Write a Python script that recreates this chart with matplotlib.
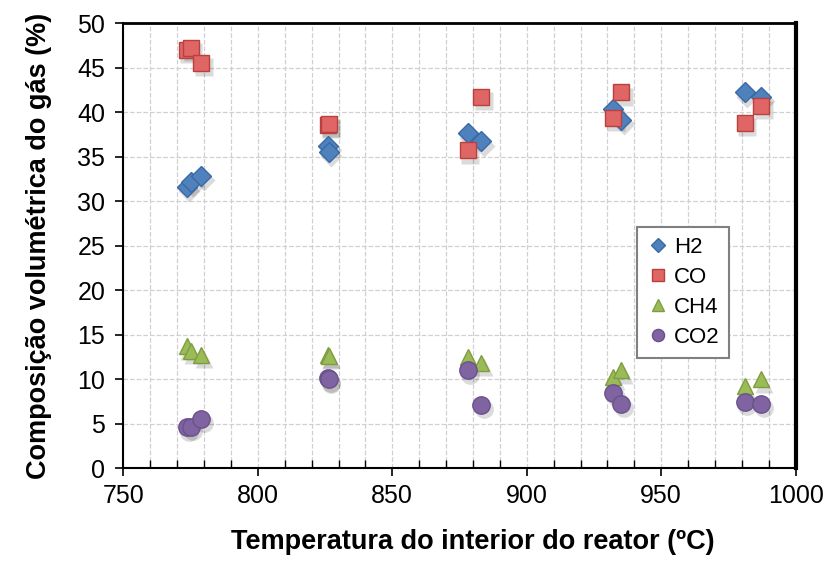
import matplotlib
matplotlib.use('Agg')
import matplotlib.pyplot as plt
import matplotlib.transforms as mtrans
from matplotlib.ticker import MultipleLocator

plt.rcParams['font.family'] = ['Liberation Sans', 'DejaVu Sans']

# Gas composition (% vol) versus reactor inner temperature (C)
temp = [773.5, 775, 779, 826, 826.3, 878, 883, 932, 935, 981, 987]
h2 = [31.6, 32.2, 32.8, 36.2, 35.5, 37.6, 36.7, 40.4, 39.1, 42.2, 41.7]
co = [47.0, 47.2, 45.5, 38.6, 38.7, 35.7, 41.7, 39.3, 42.2, 38.8, 40.7]
ch4 = [13.7, 13.2, 12.7, 12.7, 12.6, 12.5, 11.8, 10.3, 11.0, 9.2, 10.0]
co2 = [4.6, 4.7, 5.6, 10.1, 10.0, 11.0, 7.1, 8.5, 7.2, 7.5, 7.2]

series = [
    ('H2', h2, 'D', 10, '#4F81BD', '#3A6AA5'),
    ('CO', co, 's', 12, '#E06666', '#B8403D'),
    ('CH4', ch4, '^', 12, '#9BBB59', '#7E9E3E'),
    ('CO2', co2, 'o', 12.5, '#8064A2', '#6B518C'),
]

fig = plt.figure(figsize=(8.28, 5.61), dpi=100)
ax = fig.add_axes([0.149, 0.165, 0.812, 0.794])

# soft drop shadow under each marker
shadow = mtrans.offset_copy(ax.transData, fig=fig, x=2, y=-3, units='points')

handles = []
for name, vals, mk, ms, fc, ec in series:
    ax.plot(temp, vals, mk, ms=ms + 1, color='#000000', alpha=0.14, mec='none',
            transform=shadow, zorder=3)
    h, = ax.plot(temp, vals, mk, ms=ms, mfc=fc, mec=ec, mew=1.0, zorder=4, label=name)
    handles.append(h)

ax.set_xlim(750, 1000)
ax.set_ylim(0, 50)
ax.xaxis.set_major_locator(MultipleLocator(50))
ax.xaxis.set_minor_locator(MultipleLocator(10))
ax.yaxis.set_major_locator(MultipleLocator(5))

ax.grid(True, which='major', axis='y', color='#D0D0D0', ls='--', lw=0.9)
ax.grid(True, which='both', axis='x', color='#D0D0D0', ls='--', lw=0.9)
ax.set_axisbelow(True)

ax.tick_params(which='major', direction='out', length=6, width=1.2, labelsize=18, pad=5)
ax.tick_params(which='minor', direction='in', length=6, width=1.0)
ax.tick_params(axis='y', which='major', length=6, pad=7)

for side in ['left', 'bottom']:
    ax.spines[side].set_linewidth(1.5)
ax.spines['top'].set_linewidth(2)
ax.spines['right'].set_linewidth(3)

ax.set_xlabel('Temperatura do interior do reator (ºC)', fontsize=19.5,
              fontweight='bold')
ax.xaxis.set_label_coords(0.52, -0.135)
ax.set_ylabel('Composição volumétrica do gás (%)', fontsize=19.5,
              fontweight='bold', labelpad=18)

leg = ax.legend(handles=handles, loc='upper left', bbox_to_anchor=(0.764, 0.542),
                fontsize=16, frameon=True, fancybox=False, framealpha=1,
                edgecolor='#808080', markerscale=0.7, handlelength=1.0,
                handletextpad=0.2, labelspacing=0.4, borderpad=0.45,
                borderaxespad=0)
leg.get_frame().set_linewidth(1.5)

plt.savefig('out.png', dpi=100)
